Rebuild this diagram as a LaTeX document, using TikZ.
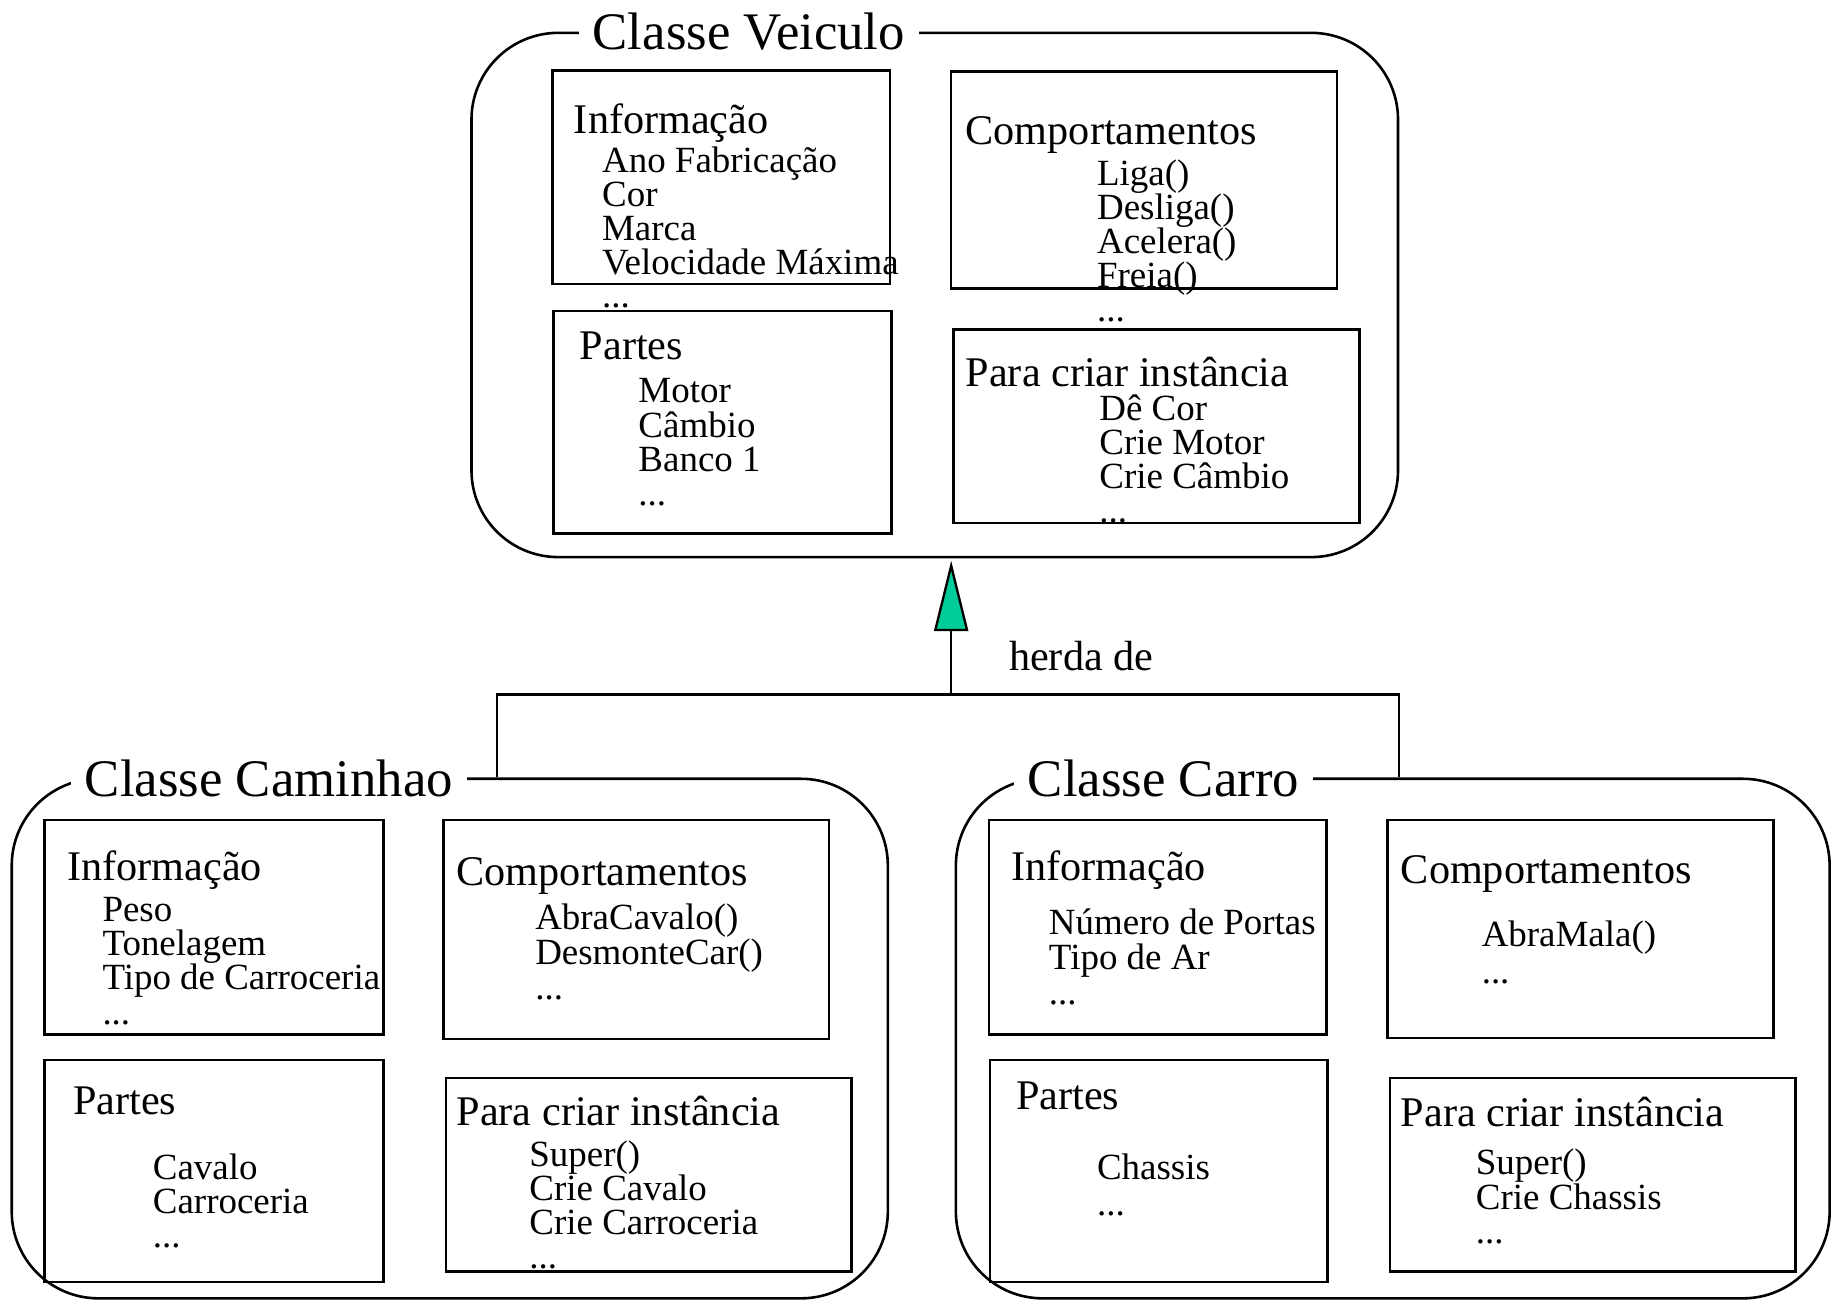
\documentclass[tikz,border=0pt]{standalone}
\usepackage{fontspec}
\setmainfont{Liberation Serif}
\usetikzlibrary{fit,arrows.meta}
\definecolor{tealfill}{RGB}{0,204,153}

% one text line per node, stacked at a fixed step
\newcommand\entrylist[5]{%
  \foreach \t [count=\i] in {#5}{\node[entry] (#1-\i) at (#2,{#3+#4*(\i-1)}) {\t};}}
\newcommand\more{.\kern0pt.\kern0pt.}

\begin{document}
\begin{tikzpicture}[x=0.5pt,y=-0.5pt,
  outerbox/.style={draw, line width=1.1pt, rounded corners=37pt, inner sep=0pt},
  innerbox/.style={draw, line width=1pt, inner sep=0pt},
  txt/.style={anchor=west, inner sep=0pt, text depth=0pt},
  classtitle/.style={txt, font=\fontsize{22.5}{24}\selectfont, text height=14.9pt,
                     fill=white, inner xsep=6pt},
  header/.style={txt, font=\fontsize{18}{20}\selectfont, text height=11.9pt},
  entry/.style={txt, font=\fontsize{15.75}{17}\selectfont, text height=10.4pt},
  link/.style={line width=1pt},
  inherit/.style={line width=1pt, -{Triangle[length=30pt,width=14.5pt,fill=tealfill]}}
]
\useasboundingbox (0,0) rectangle (1568,1110);

% ---------- Classe Veiculo ----------
\node[outerbox, fit={(402,28) (1192,475)}] (veiculo) {};
\node[classtitle] (veiculoT) at (493,27) {Classe Veiculo\hspace{14pt}};

\node[innerbox, fit={(471,60) (759,242)}] (vInfoBox) {};
\node[header] (vInfoH) at (489,102) {Informação};
\entrylist{vInfo}{513}{137}{28.75}{Ano Fabricação,Cor,Marca,Velocidade Máxima,\more}

\node[innerbox, fit={(811,61) (1140,246)}] (vCompBox) {};
\node[header] (vCompH) at (823,111) {Comportamentos};
\entrylist{vComp}{935}{148}{29}{Liga(),Desliga(),Acelera(),Freia(),\more}

\node[innerbox, fit={(472,265) (760,455)}] (vPartBox) {};
\node[header] (vPartH) at (494,295) {Partes};
\entrylist{vPart}{544}{333}{29.3}{Motor,Câmbio,Banco 1,\more}

\node[innerbox, fit={(813,281) (1159,446)}] (vInstBox) {};
\node[header] (vInstH) at (823,318) {Para criar instância};
\entrylist{vInst}{937}{348}{29}{Dê Cor,Crie Motor,Crie Câmbio,\more}

% ---------- Classe Caminhao ----------
\node[outerbox, fit={(10,664) (757,1107)}] (caminhao) {};
\node[classtitle] (caminhaoT) at (60,664) {Classe Caminhao\hspace{12pt}};

\node[innerbox, fit={(38,699) (327,882)}] (cInfoBox) {};
\node[header] (cInfoH) at (57,739) {Informação};
\entrylist{cInfo}{87}{775}{29.3}{Peso,Tonelagem,Tipo de Carroceria,\more}

\node[innerbox, fit={(378,699) (707,886)}] (cCompBox) {};
\node[header] (cCompH) at (389,743) {Comportamentos};
\entrylist{cComp}{456}{782}{30}{AbraCavalo(),DesmonteCar(),\more}

\node[innerbox, fit={(38,904) (327,1093)}] (cPartBox) {};
\node[header] (cPartH) at (62,938) {Partes};
\entrylist{cPart}{130}{995}{29}{Cavalo,Carroceria,\more}

\node[innerbox, fit={(380,919) (726,1084)}] (cInstBox) {};
\node[header] (cInstH) at (389,948) {Para criar instância};
\entrylist{cInst}{451}{984}{29}{Super(),Crie Cavalo,Crie Carroceria,\more}

% ---------- Classe Carro ----------
\node[outerbox, fit={(815,664) (1560,1107)}] (carro) {};
\node[classtitle] (carroT) at (864,664) {Classe Carro\hspace{12pt}};

\node[innerbox, fit={(843,699) (1131,882)}] (rInfoBox) {};
\node[header] (rInfoH) at (862,739) {Informação};
\entrylist{rInfo}{894}{786}{30}{Número de Portas,Tipo de Ar,\more}

\node[innerbox, fit={(1183,699) (1512,885)}] (rCompBox) {};
\node[header] (rCompH) at (1194,741) {Comportamentos};
\entrylist{rComp}{1263}{797}{31}{AbraMala(),\more}

\node[innerbox, fit={(844,904) (1132,1093)}] (rPartBox) {};
\node[header] (rPartH) at (866,934) {Partes};
\entrylist{rPart}{935}{995}{31}{Chassis,\more}

\node[innerbox, fit={(1185,919) (1531,1084)}] (rInstBox) {};
\node[header] (rInstH) at (1194,949) {Para criar instância};
\entrylist{rInst}{1258}{991}{29.5}{Super(),Crie Chassis,\more}

% ---------- inheritance ----------
\coordinate (hub) at (811,592);
\coordinate (hubL) at (424,592);
\coordinate (hubR) at (1193,592);
\draw[link] (caminhao.north -| hubL) -- (hubL) -- (hubR) -- (carro.north -| hubR);
\draw[inherit] (hub) -- ([yshift=-1pt]hub |- veiculo.south);
\node[header] (herda) at (860,560) {herda de};
\end{tikzpicture}
\end{document}
